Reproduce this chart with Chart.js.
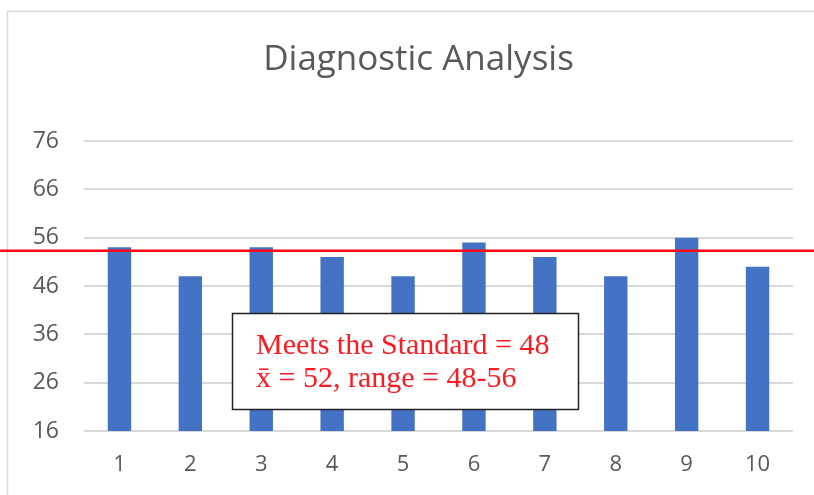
<!DOCTYPE html>
<html>
<head>
<meta charset="utf-8">
<script src="https://cdn.jsdelivr.net/npm/chart.js@4"></script>
<style>
  html, body { margin: 0; padding: 0; background: #fff; }
  #wrap { width: 814px; height: 495px; }
</style>
</head>
<body>
<div id="wrap"><canvas id="c" width="814" height="495"></canvas></div>
<script>
// Trial numbers on the x axis and the score of each trial
const categories = ['1', '2', '3', '4', '5', '6', '7', '8', '9', '10'];
const scores = [54, 48, 54, 52, 48, 55, 52, 48, 56, 50];
const yTicks = [16, 26, 36, 46, 56, 66, 76];
// Horizontal marker line across the chart
const markerValue = 53.3;
// Note shown in the boxed callout
const noteLines = ['Meets the Standard = 48', 'x\u0304 = 52, range = 48-56'];

const GRID = '#d9d9d9';
const TEXT = '#595959';

const overlay = {
  id: 'overlay',
  afterLayout(chart) {
    // centre the title over the whole chart frame rather than the plot
    const t = chart.titleBlock;
    if (t) {
      t.left = 44;
      t.right = 793;
      t.width = t.right - t.left;
    }
  },
  beforeDraw(chart) {
    const ctx = chart.ctx;
    ctx.save();
    ctx.fillStyle = '#fff';
    ctx.fillRect(0, 0, chart.width, chart.height);
    // outer chart frame (top and left edges visible)
    ctx.strokeStyle = GRID;
    ctx.lineWidth = 1.5;
    ctx.beginPath();
    ctx.moveTo(7.5, chart.height);
    ctx.lineTo(7.5, 11.5);
    ctx.lineTo(chart.width, 11.5);
    ctx.stroke();
    ctx.restore();
  },
  afterDraw(chart) {
    const ctx = chart.ctx;
    const y = chart.scales.y.getPixelForValue(markerValue);
    ctx.save();
    // red marker line across the full width
    ctx.strokeStyle = '#ff0a14';
    ctx.lineWidth = 2.5;
    ctx.beginPath();
    ctx.moveTo(0, y);
    ctx.lineTo(chart.width, y);
    ctx.stroke();

    // callout box
    const bx = 232.5, by = 313.5, bw = 346, bh = 96;
    ctx.fillStyle = '#fff';
    ctx.fillRect(bx, by, bw, bh);
    ctx.strokeStyle = '#222';
    ctx.lineWidth = 1.5;
    ctx.strokeRect(bx, by, bw, bh);
    ctx.fillStyle = '#ff1a22';
    ctx.font = '30px "Liberation Serif", "Times New Roman", serif';
    ctx.textBaseline = 'alphabetic';
    ctx.textAlign = 'left';
    ctx.fillText(noteLines[0], 256, 354);
    ctx.fillText(noteLines[1], 256, 387);
    ctx.restore();
  }
};

new Chart(document.getElementById('c'), {
  type: 'bar',
  data: {
    labels: categories,
    datasets: [{
      data: scores,
      backgroundColor: '#4472c4',
      borderWidth: 0,
      barPercentage: 0.33,
      categoryPercentage: 1.0
    }]
  },
  options: {
    responsive: false,
    animation: false,
    layout: { padding: { left: 0, right: 21, top: 0, bottom: 0 } },
    plugins: {
      legend: { display: false },
      tooltip: { enabled: false },
      title: {
        display: true,
        text: 'Diagnostic Analysis',
        color: TEXT,
        font: { family: '"Open Sans", sans-serif', size: 35, weight: 'normal' },
        padding: { top: 39, bottom: 60 }
      }
    },
    scales: {
      x: {
        grid: { display: false, drawTicks: false },
        border: { display: false },
        ticks: {
          color: TEXT,
          padding: 21,
          font: { family: '"Open Sans", sans-serif', size: 22 }
        },
        afterFit(scale) { scale.height = 64; }
      },
      y: {
        min: yTicks[0],
        max: yTicks[yTicks.length - 1],
        afterBuildTicks(scale) { scale.ticks = yTicks.map(v => ({ value: v })); },
        grid: { color: GRID, lineWidth: 2, drawTicks: false },
        border: { display: false },
        ticks: {
          color: TEXT,
          padding: 25,
          font: { family: '"Open Sans", sans-serif', size: 23 }
        },
        afterFit(scale) { scale.width = 84; }
      }
    }
  },
  plugins: [overlay]
});
</script>
</body>
</html>
